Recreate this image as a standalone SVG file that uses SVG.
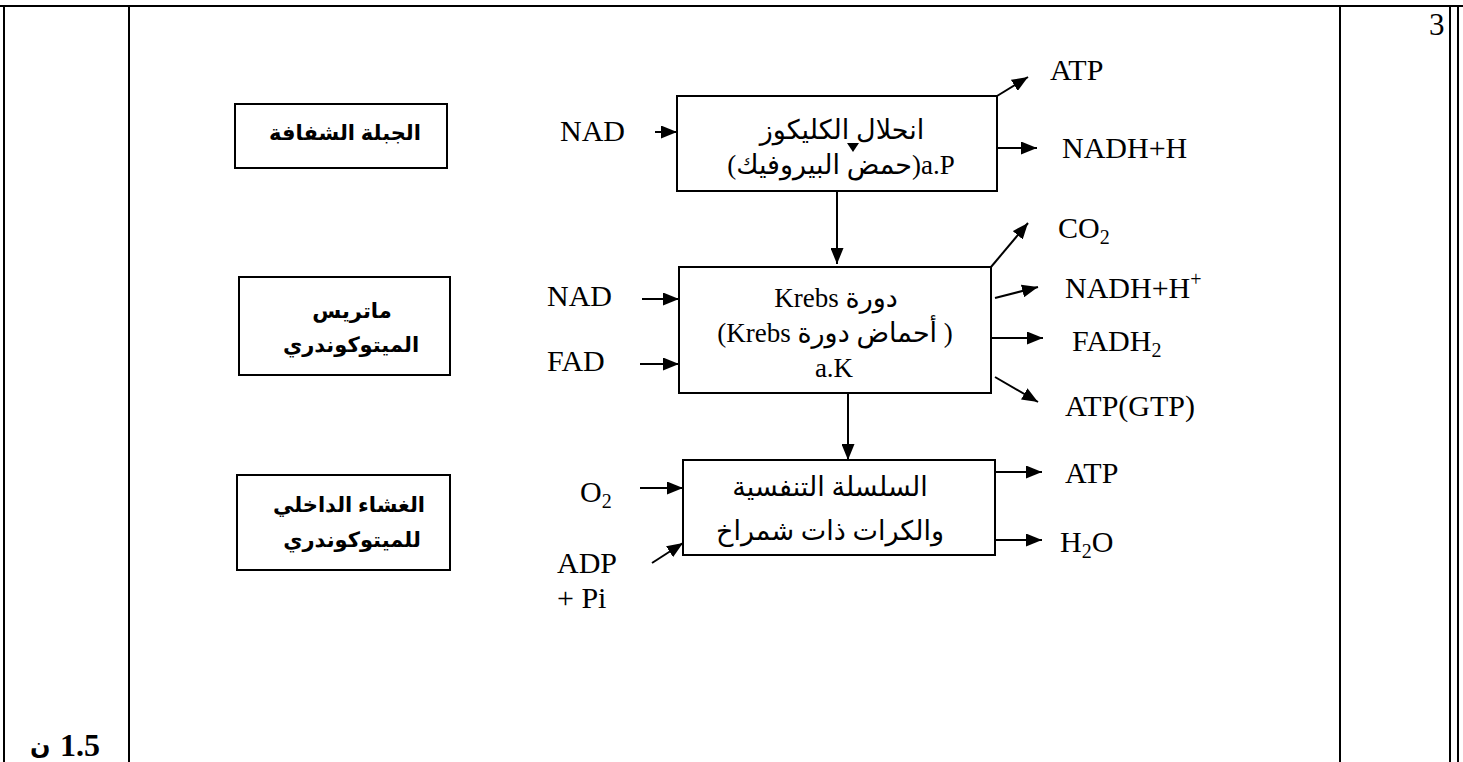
<svg xmlns="http://www.w3.org/2000/svg" width="1463" height="762" viewBox="0 0 1463 762">
<defs>
<marker id="ah" viewBox="0 0 16 13" refX="16" refY="6.5" markerWidth="16" markerHeight="13" orient="auto" markerUnits="userSpaceOnUse"><path d="M0,0 L16,6.5 L0,13 z" fill="#000"/></marker>
</defs>
<style>
.frame{stroke:#000;stroke-width:2;fill:none}
.box{fill:#fff;stroke:#000;stroke-width:2}
.lat{font-family:"Liberation Serif","DejaVu Sans",serif;font-size:30px;fill:#000}
.boxt{font-family:"Liberation Serif","DejaVu Sans",serif;font-size:27px;fill:#000;text-anchor:middle}
.ar{font-family:"Liberation Sans","DejaVu Sans",sans-serif;font-size:21px;font-weight:bold;fill:#000;text-anchor:middle}
.conn path{stroke:#000;stroke-width:2;fill:none;marker-end:url(#ah)}
.sub{font-size:20px}
</style>
<rect x="0" y="0" width="1463" height="762" fill="#fff"/>
<g id="frame" class="frame">
<line x1="0" y1="6" x2="1463" y2="6"/>
<line x1="4" y1="6" x2="4" y2="762"/>
<line x1="129" y1="6" x2="129" y2="762"/>
<line x1="1340" y1="6" x2="1340" y2="762"/>
<line x1="1450" y1="6" x2="1450" y2="762"/>
<line x1="1458" y1="6" x2="1458" y2="762"/>
</g>
<text x="1429" y="35" class="lat" style="font-size:31px">3</text>
<g id="score">
<text x="30" y="754" style="font-family:'DejaVu Sans',sans-serif;font-size:24px;font-weight:bold">ن</text>
<text x="60" y="756" style="font-family:'Liberation Serif',serif;font-size:32px;font-weight:bold">1.5</text>
</g>

<g id="loc1">
<rect class="box" x="235" y="104" width="212" height="64"/>
<text class="ar" x="345" y="140">الجبلة الشفافة</text>
</g>
<g id="loc2">
<rect class="box" x="239" y="277" width="211" height="98"/>
<text class="ar" x="352" y="318">ماتريس</text>
<text class="ar" x="351" y="352">الميتوكوندري</text>
</g>
<g id="loc3">
<rect class="box" x="237" y="475" width="213" height="95"/>
<text class="ar" x="349" y="512">الغشاء الداخلي</text>
<text class="ar" x="352" y="547">للميتوكوندري</text>
</g>

<g id="glycolysis">
<rect class="box" x="677" y="96" width="320" height="95"/>
<text class="boxt" x="842" y="139">انحلال الكليكوز</text>
<text class="boxt" x="841" y="174" style="direction:rtl">a.P(حمض البيروفيك)</text>
<polygon points="847,143 859,143 853,152" fill="#000"/>
</g>
<g id="krebs">
<rect class="box" x="679" y="267" width="312" height="126"/>
<text class="boxt" x="836" y="307" style="direction:rtl">دورة Krebs</text>
<text class="boxt" x="835" y="342" style="direction:rtl">( أحماض دورة Krebs)</text>
<text class="boxt" x="834" y="377">a.K</text>
</g>
<g id="chain">
<rect class="box" x="683" y="460" width="312" height="95"/>
<text class="boxt" x="830" y="496">السلسلة التنفسية</text>
<text class="boxt" x="830" y="540">والكرات ذات شمراخ</text>
</g>

<g id="labels">
<text class="lat" x="560" y="141">NAD</text>
<text class="lat" x="1050" y="80">ATP</text>
<text class="lat" x="1062" y="158">NADH+H</text>
<text class="lat" x="547" y="306">NAD</text>
<text class="lat" x="547" y="371">FAD</text>
<text class="lat" x="1058" y="238">CO<tspan class="sub" dy="6">2</tspan></text>
<text class="lat" x="1065" y="298">NADH+H<tspan class="sub" dy="-12">+</tspan></text>
<text class="lat" x="1072" y="351">FADH<tspan class="sub" dy="6">2</tspan></text>
<text class="lat" x="1065" y="416">ATP(GTP)</text>
<text class="lat" x="580" y="502">O<tspan class="sub" dy="6">2</tspan></text>
<text class="lat" x="557" y="573">ADP</text>
<text class="lat" x="557" y="608">+ Pi</text>
<text class="lat" x="1065" y="483">ATP</text>
<text class="lat" x="1060" y="552">H<tspan class="sub" dy="6">2</tspan><tspan dy="-6">O</tspan></text>
</g>

<g id="connectors" class="conn">
<path d="M655,132 L677,132"/>
<path d="M837,191 L837,264"/>
<path d="M642,299 L679,299"/>
<path d="M640,364 L679,364"/>
<path d="M848,394 L848,460"/>
<path d="M640,488 L683,488"/>
<path d="M652,563 L683,543"/>
<path d="M997,96 L1028,77"/>
<path d="M997,148 L1037,148"/>
<path d="M991,267 L1028,223"/>
<path d="M995,298 L1038,287"/>
<path d="M991,338 L1043,338"/>
<path d="M995,377 L1038,402"/>
<path d="M995,472 L1042,472"/>
<path d="M995,540 L1042,540"/>
</g>
</svg>
